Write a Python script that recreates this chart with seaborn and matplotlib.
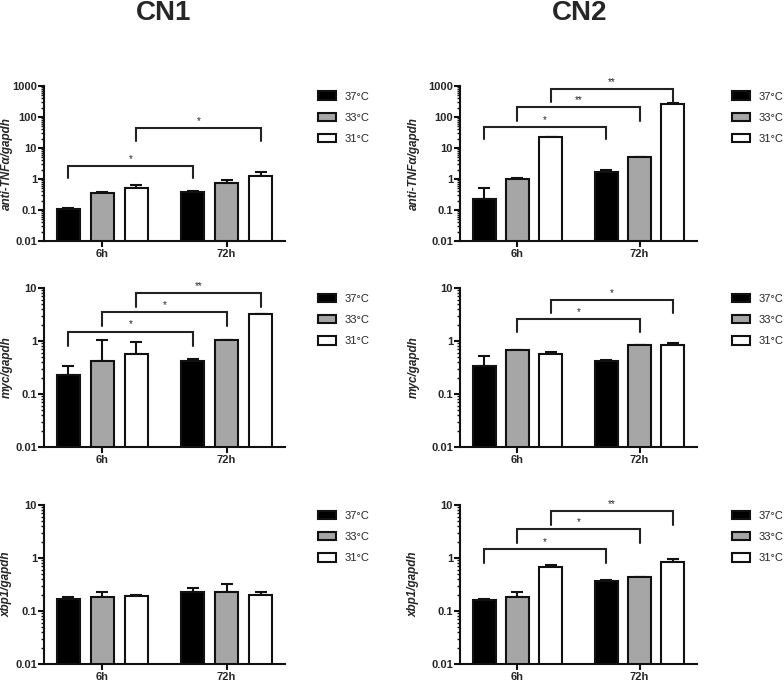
import numpy as np
import pandas as pd
import matplotlib
matplotlib.use("Agg")
import matplotlib.pyplot as plt
import matplotlib.ticker as mticker
import seaborn as sns

sns.set_style("ticks")
plt.rcParams['font.family'] = ['Liberation Sans', 'DejaVu Sans']

# ---------------- data ----------------
times = ["6h", "72h"]
temps = ["37°C", "33°C", "31°C"]
palette = ["#000000", "#a6a6a6", "#ffffff"]

# means ordered (6h: 37,33,31), (72h: 37,33,31)
cn1_tnf_mean = [0.105, 0.366, 0.50, 0.375, 0.745, 1.28]
cn1_tnf_err = [0.011, 0.008, 0.16, 0.03, 0.19, 0.39]
cn2_tnf_mean = [0.23, 1.0, 22.4, 1.67, 5.04, 267]
cn2_tnf_err = [0.30, 0.10, 1.0, 0.22, 0.25, 12]
cn1_myc_mean = [0.225, 0.414, 0.578, 0.42, 1.05, 3.18]
cn1_myc_err = [0.113, 0.64, 0.37, 0.04, 0.01, 0.02]
cn2_myc_mean = [0.333, 0.68, 0.578, 0.427, 0.845, 0.84]
cn2_myc_err = [0.19, 0.01, 0.05, 0.02, 0.01, 0.07]
cn1_xbp_mean = [0.170, 0.183, 0.191, 0.227, 0.225, 0.202]
cn1_xbp_err = [0.01, 0.047, 0.01, 0.05, 0.105, 0.028]
cn2_xbp_mean = [0.163, 0.183, 0.68, 0.371, 0.429, 0.858]
cn2_xbp_err = [0.002, 0.044, 0.05, 0.01, 0.003, 0.08]

# brackets: (temp index compared 6h vs 72h, top y, leg bottom y, label)
cn1_tnf_brk = [(0, 2.6, 1.05, "*"), (2, 43.5, 16.3, "*")]
cn2_tnf_brk = [(0, 46.8, 18.9, "*"), (1, 204, 76, "**"), (2, 783, 316, "**")]
cn1_myc_brk = [(0, 1.51, 0.81, "*"), (1, 3.57, 1.88, "*"), (2, 8.05, 4.37, "**")]
cn2_myc_brk = [(1, 2.59, 1.47, "*"), (2, 5.93, 3.32, "*")]
cn1_xbp_brk = []
cn2_xbp_brk = [(0, 1.49, 0.80, "*"), (1, 3.49, 1.90, "*"), (2, 7.72, 4.21, "**")]

ylabels = ["anti-TNFα/gapdh", "myc/gapdh", "xbp1/gapdh"]
yranges = [(0.01, 1000), (0.01, 10), (0.01, 10)]
col_titles = ["CN1", "CN2"]

panels = [
    [(cn1_tnf_mean, cn1_tnf_err, cn1_tnf_brk), (cn2_tnf_mean, cn2_tnf_err, cn2_tnf_brk)],
    [(cn1_myc_mean, cn1_myc_err, cn1_myc_brk), (cn2_myc_mean, cn2_myc_err, cn2_myc_brk)],
    [(cn1_xbp_mean, cn1_xbp_err, cn1_xbp_brk), (cn2_xbp_mean, cn2_xbp_err, cn2_xbp_brk)],
]

# ---------------- layout ----------------
W, H = 784, 681
fig = plt.figure(figsize=(W / 100, H / 100), dpi=100)

row_px = [(86, 241), (288, 447), (505, 664)]
col_px = [(44, 285), (460, 697)]
ylab_right = [13, 420]
leg_x = [1.136, 1.147]

for r in range(3):
    for c in range(2):
        mean, err, brk = panels[r][c]
        top, bot = row_px[r]
        left, right = col_px[c]
        ax = fig.add_axes([left / W, (H - bot) / H, (right - left) / W, (bot - top) / H])
        df = pd.DataFrame({
            "time": [t for t in times for _ in temps],
            "temp": [k for _ in times for k in temps],
            "value": mean,
            "err": err,
        })
        sns.barplot(data=df, x="time", y="value", hue="temp", order=times,
                    hue_order=temps, palette=palette, errorbar=None,
                    width=0.82, gap=0.31, edgecolor="#111111", linewidth=1.5,
                    log_scale=True, legend=False, ax=ax, zorder=2)
        # bar centers from library-drawn patches
        centers = {}
        for hi, cont in enumerate(ax.containers):
            for ti, bar in enumerate(cont.patches):
                centers[(ti, hi)] = bar.get_x() + bar.get_width() / 2
        for _, row in df.iterrows():
            ti = times.index(row["time"])
            hi = temps.index(row["temp"])
            ax.errorbar(centers[(ti, hi)], row["value"],
                        yerr=[[0], [row["err"]]], fmt="none", ecolor="#111111",
                        elinewidth=1.5, capsize=4, capthick=1.5, zorder=1)
        for hi, ytop, ylow, lab in brk:
            x1, x2 = centers[(0, hi)], centers[(1, hi)]
            ax.plot([x1, x1, x2, x2], [ylow, ytop, ytop, ylow], color="#222222",
                    lw=1.5, solid_joinstyle="miter", clip_on=False, zorder=3)
            ax.annotate(lab, xy=((x1 + x2) / 2, ytop), xytext=(0, 1.5),
                        textcoords="offset points", ha="center", va="bottom",
                        fontsize=7, annotation_clip=False)
        ax.set_yscale("log")
        ax.set_ylim(*yranges[r])
        ax.set_xlim(-0.47, 1.47)
        ax.yaxis.set_major_locator(mticker.LogLocator(base=10, numticks=10))
        ax.yaxis.set_minor_locator(mticker.LogLocator(base=10, subs=np.arange(2, 10), numticks=20))
        ax.yaxis.set_major_formatter(mticker.FuncFormatter(lambda v, p: "%g" % v))
        ax.yaxis.set_minor_formatter(mticker.NullFormatter())
        ax.tick_params(axis="x", which="major", length=4, width=1.5,
                       labelsize=8, pad=2, color="#111111")
        ax.tick_params(axis="y", which="major", length=4, width=1.5,
                       labelsize=8, pad=1, color="#111111")
        ax.tick_params(axis="y", which="minor", length=2, width=1, color="#111111")
        for lbl in ax.get_xticklabels() + ax.get_yticklabels():
            lbl.set_fontweight("bold")
        for s in ["left", "bottom"]:
            ax.spines[s].set_linewidth(1.5)
            ax.spines[s].set_color("#111111")
        for s in ["top", "right"]:
            ax.spines[s].set_visible(False)
        ax.set_xlabel("")
        ax.set_ylabel(ylabels[r], fontsize=8.5, fontstyle="italic", fontweight="bold")
        ax.yaxis.set_label_coords((ylab_right[c] - left) / (right - left), 0.5)
        ax.legend(ax.containers, temps, loc="upper left",
                  bbox_to_anchor=(leg_x[c], 0.965), frameon=False,
                  fontsize=8, handlelength=1.6, handleheight=0.8,
                  handletextpad=0.8, labelspacing=1.0, borderpad=0,
                  borderaxespad=0)
        if r == 0:
            fig.text((164 if c == 0 else 580) / W, 1 - 13 / H, col_titles[c],
                     fontsize=20, fontweight="bold", ha="center", va="center")

fig.savefig("out.png", dpi=100)
